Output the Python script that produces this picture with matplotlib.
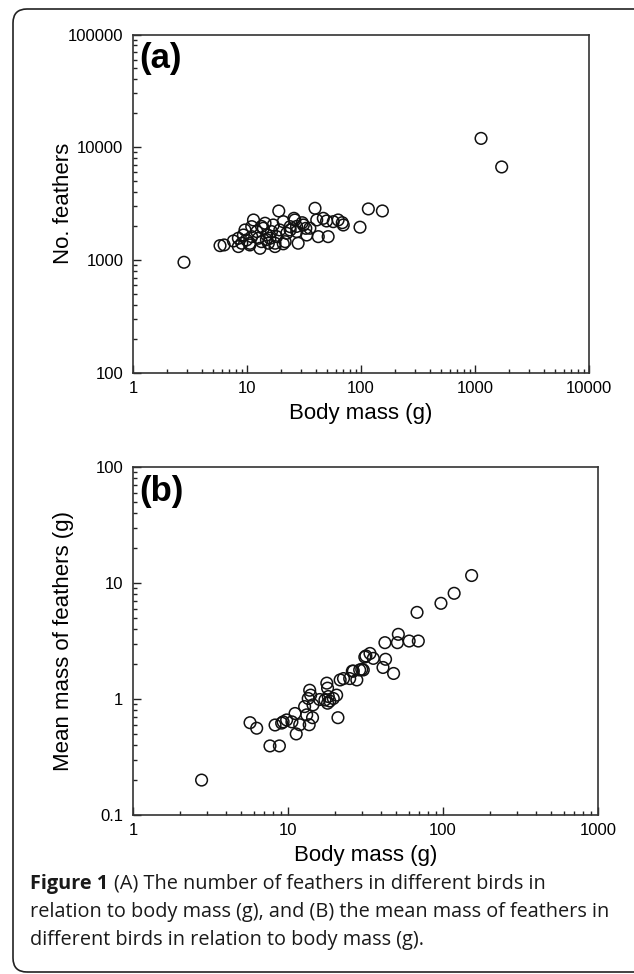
import matplotlib
matplotlib.use("Agg")
import matplotlib.pyplot as plt
import matplotlib.patches as mpatches
import matplotlib.transforms as mtransforms
from matplotlib.ticker import LogLocator, FuncFormatter, NullFormatter

# Panel (a) : nombre de plumes en fonction de la masse corporelle
masse_a = [2.8, 5.8, 6.3, 7.6, 8.4, 9.0, 9.3, 9.6, 9.9, 10.6, 11.0, 11.4, 12.2,
           12.6, 13.0, 13.4, 13.9, 14.4, 14.9, 15.4, 15.9, 16.4, 17.0, 17.6,
           18.2, 19.0, 19.4, 20.8, 21.6, 22.3, 23.9, 26.3, 27.3, 28.1, 31.2,
           33.4, 35.6, 39.5, 40.9, 42.2, 46.7, 51.5, 49.9, 57.1, 63.0, 69.9,
           98, 116, 154, 1130, 1714,
           20.8, 17.6, 8.4, 10.6, 14.8, 13.4, 11.0, 23.9, 27.2, 32.8, 30.5,
           25.8, 68.5]
plumes_a = [958, 1345, 1364, 1479, 1563, 1413, 1671, 1852, 1510, 1364, 1982,
            2271, 1791, 1563, 1274, 1459, 1918, 2125, 1671, 1413, 1563, 1791,
            2050, 1413, 1616, 2729, 1852, 2193, 1459, 1730, 1982, 2271, 1791,
            1413, 2050, 1671, 1918, 2884, 2271, 1616, 2349, 1616, 2224, 2193,
            2271, 2050, 1960, 2845, 2730, 12000, 6700,
            1396, 1320, 1320, 1410, 1520, 1990, 1616, 1850, 1990, 1915, 2148,
            2350, 2150]

# Panel (b) : masse moyenne des plumes
masse_b = [2.77, 5.69, 6.28, 7.65, 8.8, 8.25, 9.1, 9.3, 9.8, 11.1, 11.3, 10.6,
           11.9, 13.2, 12.8, 13.5, 13.8, 14.0, 14.4, 13.7, 14.5, 16.0, 17.3,
           17.8, 18.0, 18.2, 18.0, 18.6, 19.6, 20.6, 21.0, 21.7, 22.8, 25.0,
           26.0, 27.8, 29.0, 30.6, 31.3, 33.8, 35.5, 153, 118, 97, 68, 51.5,
           50.8, 42.2, 60.5, 69.3, 31.8, 42.6, 41, 48, 29.9, 26.4]
plumes_b = [0.2, 0.625, 0.56, 0.394, 0.394, 0.597, 0.62, 0.635, 0.66, 0.75,
            0.5, 0.635, 0.6, 0.73, 0.86, 1.01, 1.19, 1.08, 0.69, 0.6, 0.89,
            0.99, 0.98, 1.37, 1.24, 1.05, 0.92, 0.96, 1.01, 1.08, 0.69, 1.46,
            1.5, 1.5, 1.74, 1.46, 1.78, 1.78, 2.3, 2.47, 2.24, 11.6, 8.15,
            6.68, 5.58, 3.61, 3.06, 3.06, 3.16, 3.16, 2.35, 2.2, 1.87, 1.66,
            1.8, 1.74]

W, H = 634, 974
plt.rcParams['font.family'] = ['Liberation Sans', 'DejaVu Sans']
fig = plt.figure(figsize=(W / 100, H / 100), dpi=100)


def boite(x0, y0, x1, y1):
    # pixels (origine en haut à gauche) -> fractions de figure
    return [x0 / W, 1 - y1 / H, (x1 - x0) / W, (y1 - y0) / H]


def formater(v, pos):
    return "%g" % v


def habiller(ax, xlim, ylim, ylabel, lettre, largeur):
    ax.set_xscale("log")
    ax.set_yscale("log")
    ax.set_xlim(*xlim)
    ax.set_ylim(*ylim)
    ax.xaxis.set_major_locator(LogLocator(base=10))
    ax.yaxis.set_major_locator(LogLocator(base=10))
    ax.xaxis.set_minor_locator(LogLocator(base=10, subs=range(2, 10)))
    ax.yaxis.set_minor_locator(LogLocator(base=10, subs=range(2, 10)))
    ax.xaxis.set_major_formatter(FuncFormatter(formater))
    ax.yaxis.set_major_formatter(FuncFormatter(formater))
    ax.xaxis.set_minor_formatter(NullFormatter())
    ax.yaxis.set_minor_formatter(NullFormatter())
    ax.tick_params(which="both", direction="in", top=False, right=False,
                   color="#222222", width=1.0)
    ax.tick_params(which="major", length=6, labelsize=12)
    ax.tick_params(which="minor", length=3)
    ax.tick_params(axis="x", which="major", pad=6)
    ax.tick_params(axis="y", which="major", pad=7)
    for s in ax.spines.values():
        s.set_linewidth(1.2)
        s.set_color("#333333")
    ax.set_xlabel("Body mass (g)", fontsize=16, labelpad=5)
    ax.set_ylabel(ylabel, fontsize=16)
    ax.yaxis.set_label_coords((74 - 133) / largeur, 0.5)
    ax.text(0.014, 0.978, lettre, transform=ax.transAxes, fontsize=25,
            fontweight="bold", va="top", ha="left")


ax1 = fig.add_axes(boite(133, 34.5, 589, 373))
ax1.scatter(masse_a, plumes_a, s=70, facecolors="none", edgecolors="#111111",
            linewidths=1.1, clip_on=False)
habiller(ax1, (1, 10000), (100, 100000), "No. feathers", "(a)", 456)

ax2 = fig.add_axes(boite(133, 467, 598, 815))
ax2.scatter(masse_b, plumes_b, s=70, facecolors="none", edgecolors="#111111",
            linewidths=1.1, clip_on=False)
habiller(ax2, (1, 1000), (0.1, 100), "Mean mass of feathers (g)", "(b)", 465)

# Cadre arrondi et légende de la figure
ident = mtransforms.IdentityTransform()
fig.patches.append(mpatches.FancyBboxPatch(
    (13, 2), 700, H - 11, boxstyle="round,pad=0,rounding_size=14",
    transform=ident, fill=False, edgecolor="#222222", linewidth=1.2))

cap = "Open Sans"
taille = 14.3
lignes = ["relation to body mass (g), and (B) the mean mass of feathers in",
          "different birds in relation to body mass (g)."]
t = fig.text(30 / W, 1 - 884 / H, "Figure 1", fontsize=taille,
             fontweight="bold", family=cap, va="center", ha="left",
             color="#1a1a1a")
fig.canvas.draw()
ext = t.get_window_extent()
fig.text((ext.x1 + 6) / W, 1 - 884 / H,
         "(A) The number of feathers in different birds in", fontsize=taille,
         family=cap, va="center", ha="left", color="#1a1a1a")
for i, l in enumerate(lignes):
    fig.text(30 / W, 1 - (912 + 28 * i) / H, l, fontsize=taille, family=cap,
             va="center", ha="left", color="#1a1a1a")

fig.savefig("out.png", dpi=100)
